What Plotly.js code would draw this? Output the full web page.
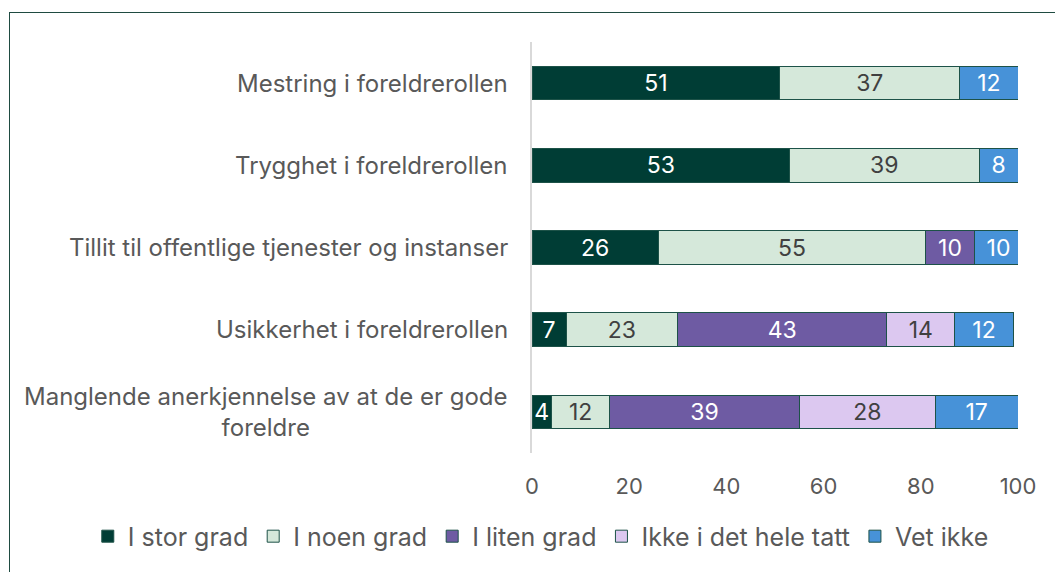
<!DOCTYPE html>
<html>
<head>
<meta charset="utf-8">
<script src="https://cdn.plot.ly/plotly-3.0.1.min.js"></script>
<style>
  html, body { margin: 0; padding: 0; background: #ffffff; overflow: hidden; }
  #chart { width: 1055px; height: 572px; position: absolute; left: 0; top: 0; }
  #frame { position: absolute; left: 9px; top: 12px; width: 1100px; height: 620px;
           border: 1.5px solid #1f4b41; pointer-events: none; box-sizing: border-box; }
</style>
</head>
<body>
<div id="chart"></div>
<div id="frame"></div>
<script>
const categories = [
  "Mestring i foreldrerollen",
  "Trygghet i foreldrerollen",
  "Tillit til offentlige tjenester og instanser",
  "Usikkerhet i foreldrerollen",
  "Manglende anerkjennelse av at de er gode<br>foreldre"
];
const seriesNames = ["I stor grad", "I noen grad", "I liten grad", "Ikke i det hele tatt", "Vet ikke"];
const iStorGrad = [51, 53, 26, 7, 4];
const iNoenGrad = [37, 39, 55, 23, 12];
const iLitenGrad = [null, null, 10, 43, 39];
const ikkeIDetHeleTatt = [null, null, null, 14, 28];
const vetIkke = [12, 8, 10, 12, 17];
const xTicks = [0, 20, 40, 60, 80, 100];

const seriesValues = [iStorGrad, iNoenGrad, iLitenGrad, ikkeIDetHeleTatt, vetIkke];
const colors = ["#003d35", "#d5e8da", "#6e5ba3", "#dcc8f0", "#4792d8"];
const textColors = ["#ffffff", "#404040", "#ffffff", "#404040", "#ffffff"];

const traces = seriesNames.map((name, i) => ({
  type: "bar",
  orientation: "h",
  name: name,
  y: categories,
  x: seriesValues[i],
  text: seriesValues[i].map(v => v === null ? "" : String(v)),
  texttemplate: "%{text}",
  textposition: "inside",
  insidetextanchor: "middle",
  textangle: 0,
  constraintext: "none",
  textfont: { family: "Inter, sans-serif", size: 23, color: textColors[i] },
  marker: { color: colors[i], line: { color: "#1d5248", width: 1 } },
  hoverinfo: "none"
}));

const annotations = categories.map(c => ({
  xref: "paper", yref: "y",
  x: 0, y: c,
  xanchor: "right", yanchor: "middle",
  xshift: -22,
  text: c,
  align: "center",
  showarrow: false,
  font: { family: "Inter, sans-serif", size: 24, color: "#595959" }
}));

const layout = {
  width: 1055, height: 572,
  paper_bgcolor: "#ffffff", plot_bgcolor: "#ffffff",
  barmode: "stack",
  bargap: 0.59,
  margin: { l: 532, r: 37, t: 42, b: 115, pad: 0 },
  font: { family: "Inter, sans-serif", color: "#595959" },
  xaxis: {
    range: [0, 100],
    tickvals: xTicks,
    ticktext: xTicks.map(String),
    showgrid: false, zeroline: false, showline: false,
    ticks: "",
    ticklabelstandoff: 18,
    tickfont: { family: "Inter, sans-serif", size: 22, color: "#595959" },
    fixedrange: true
  },
  yaxis: {
    autorange: "reversed",
    showticklabels: false,
    showgrid: false, zeroline: false,
    showline: true, linecolor: "#d9d9d9", linewidth: 2,
    ticks: "",
    fixedrange: true
  },
  showlegend: true,
  legend: {
    orientation: "h",
    xref: "paper", yref: "paper",
    x: -0.914, xanchor: "left",
    y: -0.203, yanchor: "middle",
    traceorder: "normal",
    font: { family: "Inter, sans-serif", size: 25, color: "#595959" },
    itemclick: false, itemdoubleclick: false
  },
  annotations: annotations
};

Plotly.newPlot("chart", traces, layout, { displayModeBar: false, staticPlot: true });
</script>
</body>
</html>
